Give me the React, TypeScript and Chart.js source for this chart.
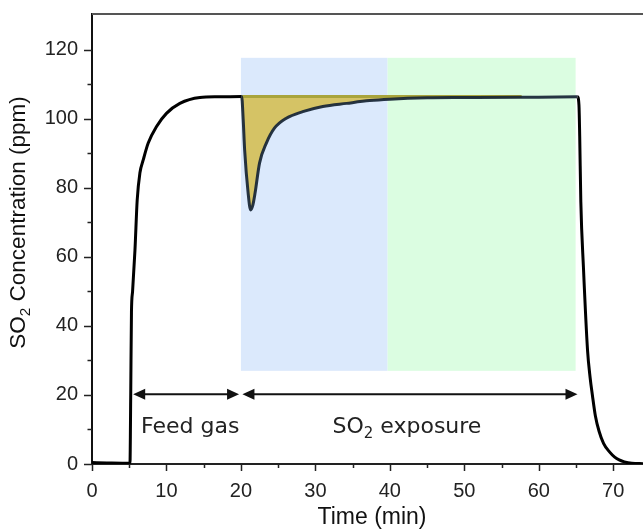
import React, { useEffect, useRef } from "react";
import { Chart, registerables } from "chart.js";

Chart.register(...registerables);

// ---- data ----
const timeMin = [
  0, 2, 5.1, 5.2, 5.3, 5.45, 5.77, 6.07, 6.43, 6.88, 7.55, 8.67, 10, 11.8, 14.5, 17, 20.1,
  20.3, 20.5, 20.97, 21.3, 21.6, 21.9, 22.5, 23.4, 24.5, 26.1, 28.3, 31, 34.2, 37.3,
  40, 45, 50, 57.7, 60, 65.2, 65.4, 65.5, 65.65, 66.0, 66.55, 66.9, 67.2, 67.6, 68.1,
  68.7, 69.5, 70.2, 70.8, 71.5, 72.5, 74,
];
const so2Ppm = [
  0.4, 0.3, 0.2, 20, 44, 50, 62, 76.5, 84.3, 88.1, 93, 97.8, 101.6, 104.5, 106.2, 106.4, 106.5,
  100, 91, 78.5, 73.6, 75, 78.5, 87.2, 92.9, 97.3, 100.2, 102.1, 103.6, 104.5, 105.3,
  105.7, 106.1, 106.2, 106.3, 106.3, 106.4, 104, 95, 76, 57, 33, 25, 20, 14, 9.5,
  6, 3.5, 2, 1.2, 0.6, 0.2, 0.1,
];
const baselinePpm = 106.5;
const fillStartMin = 20.1;
const fillEndMin = 57.7;
const exposureStartMin = 20.1;
const exposureEndMin = 65.2;

const blueRegion = { x0: 20, x1: 39.7, y0: 27, y1: 117.7 };
const greenRegion = { x0: 39.7, x1: 64.95, y0: 27, y1: 117.7 };

const xMajorTicks = [0, 10, 20, 30, 40, 50, 60, 70];
const xMinorTicks = [5, 15, 25, 35, 45, 55, 65];
const yMajorTicks = [0, 20, 40, 60, 80, 100, 120];
const yMinorTicks = [10, 30, 50, 70, 90, 110];

const feedArrow = { x0: 5.53, x1: 19.75, y: 20.2 };
const exposureArrow = { x0: 20.2, x1: 65.2, y: 20.2 };
const feedLabel = { x: 13.2, y: 9.0, parts: [{ text: "Feed gas" }] };
const exposureLabel = {
  x: 42.3,
  y: 9.0,
  parts: [{ text: "SO" }, { text: "2", sub: true }, { text: " exposure" }],
};

const SANS = "'Liberation Sans', Arial, sans-serif";
const VERD = "'DejaVu Sans', Verdana, sans-serif";

type Part = { text: string; sub?: boolean };

function drawRich(
  ctx: CanvasRenderingContext2D,
  parts: Part[],
  x: number,
  y: number,
  size: number,
  family: string,
  color: string,
  rotate = false
) {
  ctx.save();
  ctx.translate(x, y);
  if (rotate) ctx.rotate(-Math.PI / 2);
  const subSize = size * 0.68;
  let total = 0;
  const widths = parts.map((p) => {
    ctx.font = `${p.sub ? subSize : size}px ${family}`;
    const w = ctx.measureText(p.text).width;
    total += w;
    return w;
  });
  let cx = -total / 2;
  ctx.textBaseline = "alphabetic";
  ctx.textAlign = "left";
  ctx.fillStyle = color;
  parts.forEach((p, i) => {
    ctx.font = `${p.sub ? subSize : size}px ${family}`;
    ctx.fillText(p.text, cx, p.sub ? size * 0.24 : 0);
    cx += widths[i];
  });
  ctx.restore();
}

function arrowHead(ctx: CanvasRenderingContext2D, tipX: number, y: number, dir: number) {
  const len = 12;
  const half = 5.5;
  ctx.beginPath();
  ctx.moveTo(tipX, y);
  ctx.lineTo(tipX - dir * len, y - half);
  ctx.lineTo(tipX - dir * len, y + half);
  ctx.closePath();
  ctx.fill();
}

const decorPlugin = {
  id: "decor",
  beforeDatasetsDraw(chart: any) {
    const { ctx, chartArea, scales } = chart;
    const x = scales.x;
    const y = scales.y;
    ctx.save();
    ctx.beginPath();
    ctx.rect(chartArea.left, chartArea.top, chartArea.right - chartArea.left, chartArea.bottom - chartArea.top);
    ctx.clip();
    const rect = (r: any, color: string) => {
      const px0 = x.getPixelForValue(r.x0);
      const px1 = x.getPixelForValue(r.x1);
      const py0 = y.getPixelForValue(r.y1);
      const py1 = y.getPixelForValue(r.y0);
      ctx.fillStyle = color;
      ctx.fillRect(px0, py0, px1 - px0, py1 - py0);
    };
    rect(blueRegion, "#dbe9fc");
    rect(greenRegion, "#dbfde1");
    ctx.restore();
  },
  afterDatasetsDraw(chart: any) {
    const { ctx, chartArea, scales } = chart;
    const x = scales.x;
    const y = scales.y;
    ctx.save();
    // top frame
    ctx.strokeStyle = "#555";
    ctx.lineWidth = 2;
    ctx.beginPath();
    ctx.moveTo(chartArea.left, chartArea.top);
    ctx.lineTo(chartArea.right, chartArea.top);
    ctx.stroke();

    // ticks
    ctx.strokeStyle = "#222";
    ctx.lineWidth = 1.5;
    ctx.beginPath();
    yMajorTicks.forEach((v) => {
      const py = Math.round(y.getPixelForValue(v)) + 0.5;
      ctx.moveTo(chartArea.left - 8, py);
      ctx.lineTo(chartArea.left, py);
    });
    yMinorTicks.forEach((v) => {
      const py = Math.round(y.getPixelForValue(v)) + 0.5;
      ctx.moveTo(chartArea.left - 4.5, py);
      ctx.lineTo(chartArea.left, py);
    });
    xMajorTicks.forEach((v) => {
      const px = Math.round(x.getPixelForValue(v)) + 0.5;
      ctx.moveTo(px, chartArea.bottom);
      ctx.lineTo(px, chartArea.bottom + 7);
    });
    xMinorTicks.forEach((v) => {
      const px = Math.round(x.getPixelForValue(v)) + 0.5;
      ctx.moveTo(px, chartArea.bottom);
      ctx.lineTo(px, chartArea.bottom + 4);
    });
    ctx.stroke();

    // arrows
    ctx.strokeStyle = "#111";
    ctx.fillStyle = "#111";
    ctx.lineWidth = 2;
    [feedArrow, exposureArrow].forEach((a) => {
      const px0 = x.getPixelForValue(a.x0);
      const px1 = x.getPixelForValue(a.x1);
      const py = y.getPixelForValue(a.y);
      ctx.beginPath();
      ctx.moveTo(px0 + 6, py);
      ctx.lineTo(px1 - 6, py);
      ctx.stroke();
      arrowHead(ctx, px0, py, -1);
      arrowHead(ctx, px1, py, 1);
    });

    // annotation labels
    [feedLabel, exposureLabel].forEach((l) => {
      drawRich(ctx, l.parts, x.getPixelForValue(l.x), y.getPixelForValue(l.y), 22, VERD, "#222");
    });

    // axis titles
    drawRich(ctx, [{ text: "Time (min)" }], 372, 524, 23, SANS, "#111");
    drawRich(
      ctx,
      [{ text: "SO" }, { text: "2", sub: true }, { text: " Concentration (ppm)" }],
      25,
      222.5,
      22.5,
      SANS,
      "#111",
      true
    );
    ctx.restore();
  },
};

export default function App() {
  const ref = useRef<HTMLCanvasElement | null>(null);

  useEffect(() => {
    if (!ref.current) return;
    const curve = timeMin.map((t, i) => ({ x: t, y: so2Ppm[i] }));
    const dipCurve = curve.filter((p) => p.x >= fillStartMin && p.x <= fillEndMin);
    const baseLine = [
      { x: fillStartMin, y: baselinePpm },
      { x: fillEndMin, y: baselinePpm },
    ];

    const chart = new Chart(ref.current, {
      type: "line",
      data: {
        datasets: [
          {
            data: curve,
            order: 0,
            borderColor: "#000",
            borderWidth: 3,
            pointRadius: 0,
            cubicInterpolationMode: "monotone",
            fill: false,
            segment: {
              borderColor: (c: any) =>
                c.p0.parsed.x >= exposureStartMin && c.p1.parsed.x <= exposureEndMin
                  ? "rgba(22,36,52,0.92)"
                  : "#000",
            },
          } as any,
          {
            data: baseLine,
            order: 1,
            borderColor: "#a9a43c",
            borderWidth: 3,
            pointRadius: 0,
            fill: false,
          },
          {
            data: dipCurve,
            order: 2,
            borderColor: "rgba(0,0,0,0)",
            borderWidth: 0,
            pointRadius: 0,
            cubicInterpolationMode: "monotone",
            backgroundColor: "#d5c365",
            fill: { value: baselinePpm },
          } as any,
        ],
      },
      options: {
        responsive: false,
        animation: false,
        devicePixelRatio: 1,
        layout: { padding: { top: 14, right: 0, left: 0, bottom: 0 } },
        plugins: {
          legend: { display: false },
          tooltip: { enabled: false },
        },
        scales: {
          x: {
            type: "linear",
            min: 0,
            max: 74,
            grid: { display: false, drawTicks: false },
            border: { display: true, color: "#222", width: 2 },
            afterBuildTicks: (s: any) => {
              s.ticks = xMajorTicks.map((v) => ({ value: v }));
            },
            afterFit: (s: any) => {
              s.height = 65;
              s.paddingLeft = 0;
              s.paddingRight = 0;
              s.paddingTop = 0;
              s.paddingBottom = 0;
            },
            ticks: {
              padding: 15,
              color: "#222",
              font: { family: SANS, size: 20 },
              maxRotation: 0,
              autoSkip: false,
            },
          },
          y: {
            type: "linear",
            min: 0,
            max: 130.4,
            grid: { display: false, drawTicks: false },
            border: { display: true, color: "#111", width: 2 },
            afterBuildTicks: (s: any) => {
              s.ticks = yMajorTicks.map((v) => ({ value: v }));
            },
            afterFit: (s: any) => {
              s.width = 92;
              s.paddingLeft = 0;
              s.paddingRight = 0;
              s.paddingTop = 0;
              s.paddingBottom = 0;
            },
            ticks: {
              padding: 14,
              color: "#222",
              font: { family: SANS, size: 20 },
              autoSkip: false,
            },
          },
        },
      } as any,
      plugins: [decorPlugin],
    });
    return () => chart.destroy();
  }, []);

  return (
    <div style={{ position: "absolute", left: 0, top: 0, width: 643, height: 529, overflow: "hidden", background: "#fff" }}>
      <canvas ref={ref} width={643} height={529} style={{ display: "block" }} />
    </div>
  );
}
